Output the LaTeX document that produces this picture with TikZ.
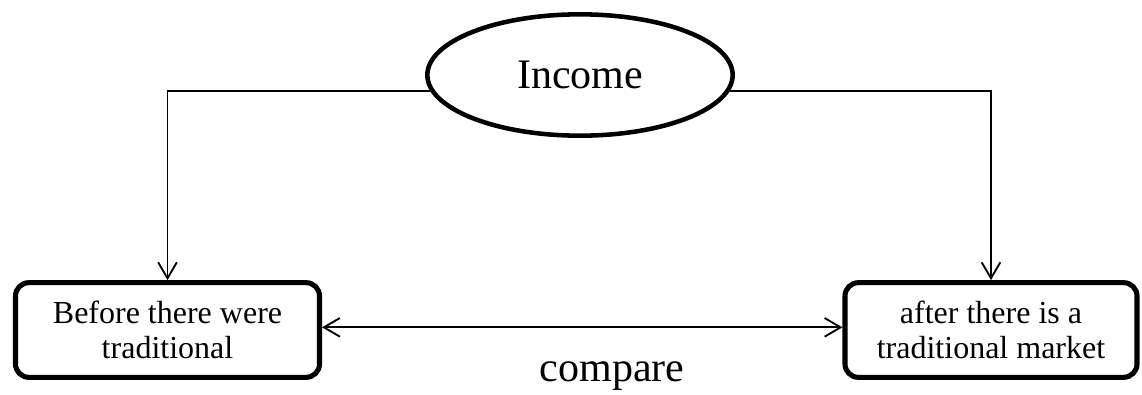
\documentclass[tikz,border=0pt]{standalone}
\usepackage{fontspec}
\setmainfont{Liberation Serif}
\usetikzlibrary{shapes.geometric,arrows.meta}

\begin{document}
\begin{tikzpicture}[x=0.75pt,y=-0.75pt,
  >={Straight Barb[length=12pt,width=14pt,line width=1.4pt]},
  stagebox/.style={draw, line width=3.8pt, rounded corners=10pt, align=center,
    font=\fontsize{24}{26.5}\selectfont, inner sep=0pt},
  link/.style={line width=1.4pt}]
\useasboundingbox (0,0) rectangle (1142,394);
\node[draw, ellipse, line width=3.4pt, minimum width=229pt, minimum height=91pt,
  inner sep=0pt, font=\fontsize{31.5}{36}\selectfont] (inc) at (580,75) {Income};
\node[stagebox, minimum width=228pt, minimum height=71pt] (before) at (167.5,330)
  {Before there were\\traditional};
\node[stagebox, minimum width=219pt, minimum height=71pt] (after) at (991,330)
  {after there is a\\traditional market};
\draw[link, ->] (inc.186) -| (before.north);
\draw[link, ->] (inc.354) -| (after.north);
\draw[link, <->] ([yshift=2pt]before.east) -- ([yshift=2pt]after.west);
\node[font=\fontsize{31.5}{36}\selectfont] (cmp) at (612,376) {compare};
\end{tikzpicture}
\end{document}
